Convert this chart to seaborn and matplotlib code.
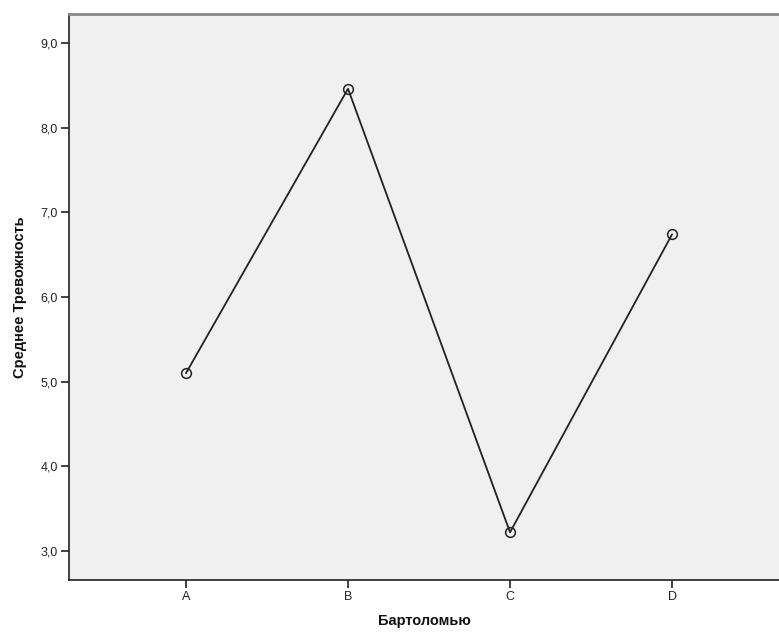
import matplotlib
matplotlib.use("Agg")
import matplotlib.pyplot as plt
import seaborn as sns
import pandas as pd

categories = ["A", "B", "C", "D"]
values = [5.10, 8.46, 3.22, 6.74]
y_ticks = [3.0, 4.0, 5.0, 6.0, 7.0, 8.0, 9.0]
y_tick_labels = ["3,0", "4,0", "5,0", "6,0", "7,0", "8,0", "9,0"]
x_label = "Бартоломью"
y_label = "Среднее Тревожность"

sns.set_theme(style="white")
plt.rcParams['font.family'] = ['Liberation Sans', 'DejaVu Sans']

df = pd.DataFrame({"cat": categories, "val": values})

fig = plt.figure(figsize=(7.79, 6.37), dpi=100)
ax = fig.add_axes([69/779, 57/637, 1 - 69/779, (580-14)/637])
ax.set_facecolor("#f0f0f0")

sns.lineplot(data=df, x="cat", y="val", ax=ax, sort=False, color="#222222",
             linewidth=1.3, marker="o", markersize=7, markerfacecolor="none",
             markeredgecolor="#222222", markeredgewidth=1.1)

ax.set_xlim(-0.722, 3.66)
ax.set_ylim(2.657, 9.343)
ax.set_yticks(y_ticks)
ax.set_yticklabels(y_tick_labels)
ax.set_xticks(range(len(categories)))
ax.set_xticklabels(categories)

ax.tick_params(axis="both", which="major", direction="out", length=6, width=1.2,
               color="#222222", labelsize=9, labelcolor="#222222", pad=2,
               bottom=True, left=True)
for s in ["left", "bottom"]:
    ax.spines[s].set_color("#222222")
    ax.spines[s].set_linewidth(1.2)
ax.spines["top"].set_color("#888888")
ax.spines["top"].set_linewidth(2)
ax.spines["right"].set_visible(False)

ax.set_xlabel(x_label, fontsize=10.5, fontweight="bold", color="#111111", labelpad=8)
ax.set_ylabel(y_label, fontsize=10.5, fontweight="bold", color="#111111", labelpad=10)

fig.savefig("out.png", dpi=100)
